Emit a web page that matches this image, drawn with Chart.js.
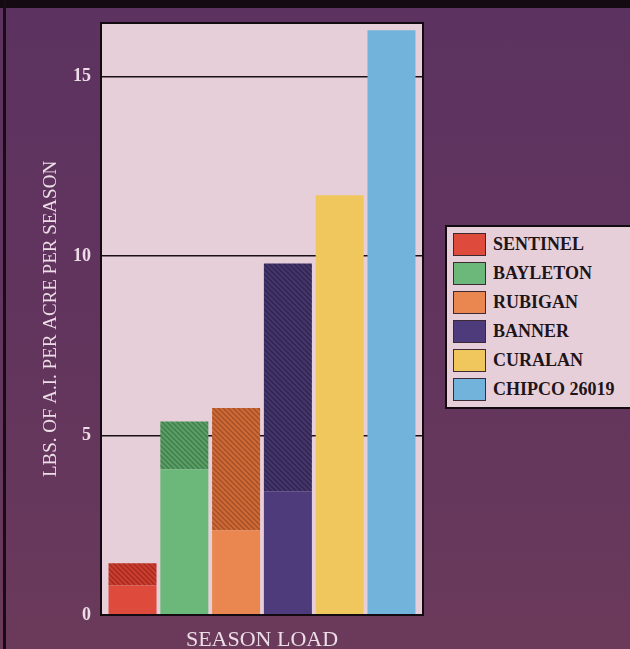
<!DOCTYPE html>
<html>
<head>
<meta charset="utf-8">
<script src="https://cdn.jsdelivr.net/npm/chart.js@4.4.1/dist/chart.umd.min.js"></script>
<style>
html,body{margin:0;padding:0;width:630px;height:649px;overflow:hidden;}
body{position:relative;background:linear-gradient(180deg,#5c3260 0%,#62355d 55%,#6b3a5b 100%);font-family:"Liberation Serif",serif;}
#topband{position:absolute;left:0;top:0;width:630px;height:8px;background:#140b12;}
#leftline{position:absolute;left:3px;top:0;width:3px;height:649px;background:#1a0c17;}
#wrap{position:absolute;left:0;top:0;width:630px;height:649px;}
#legend{position:absolute;left:445px;top:225px;width:200px;height:184px;box-sizing:border-box;border:2px solid #120c10;background:#e7cfd9;}
.item{position:absolute;left:6px;height:23px;display:flex;align-items:center;white-space:nowrap;}
.sw{width:33px;height:23px;box-sizing:border-box;border:1.5px solid #3b2a34;}
.lab{margin-left:7px;font-family:"Liberation Serif",serif;font-weight:bold;font-size:18px;color:#1d1519;line-height:23px;}
</style>
</head>
<body>
<div id="topband"></div>
<div id="leftline"></div>
<div id="wrap"><canvas id="c" width="630" height="649"></canvas></div>
<div id="legend"></div>
<script>
// ---- data ----
const categories = ['SEASON LOAD'];
const products = ['SENTINEL', 'BAYLETON', 'RUBIGAN', 'BANNER', 'CURALAN', 'CHIPCO 26019'];
const lowRate  = [0.82, 4.06, 2.36, 3.45, 11.70, 16.30];
const highRate = [1.44, 5.39, 5.77, 9.80, 11.70, 16.30];
const yTicks = [0, 5, 10, 15];
const yMax = 16.5;
const yTitle = 'LBS. OF A.I. PER ACRE PER SEASON';

// ---- styles ----
const solidColors  = ['#de4a3b', '#6cb87b', '#ea8650', '#4d3b7b', '#f0c75c', '#72b3db'];
const hatchBase    = ['#cc3e2f', '#5a9f66', '#cf6a35', '#45366e', '#f0c75c', '#72b3db'];
const hatchStripe  = ['#a52b1f', '#427d4c', '#a4502a', '#30254f', '#f0c75c', '#72b3db'];
const plotBg = '#e7cfd9';
const lightText = '#ecdde6';

function hatch(base, stripe) {
  const s = 5;
  const c = document.createElement('canvas');
  c.width = s; c.height = s;
  const g = c.getContext('2d');
  g.fillStyle = base; g.fillRect(0, 0, s, s);
  g.strokeStyle = stripe; g.lineWidth = 1.5;
  g.beginPath();
  g.moveTo(-1, -1); g.lineTo(s + 1, s + 1);
  g.moveTo(-1, s - 1); g.lineTo(1, s + 1);
  g.moveTo(s - 1, -1); g.lineTo(s + 1, 1);
  g.stroke();
  return g.createPattern(c, 'repeat');
}

const datasets = [];
products.forEach((p, i) => {
  datasets.push({
    label: p,
    data: [lowRate[i]],
    stack: 's' + i,
    backgroundColor: solidColors[i],
    borderWidth: 0
  });
  if (highRate[i] > lowRate[i]) {
    datasets.push({
      label: p + ' range',
      data: [highRate[i] - lowRate[i]],
      stack: 's' + i,
      backgroundColor: hatch(hatchBase[i], hatchStripe[i]),
      borderWidth: 0
    });
  }
});

const plotFrame = {
  id: 'plotFrame',
  beforeDraw(chart) {
    const a = chart.chartArea, ctx = chart.ctx;
    ctx.save();
    ctx.fillStyle = plotBg;
    ctx.fillRect(a.left, a.top, a.right - a.left, a.bottom - a.top);
    ctx.restore();
  },
  afterDraw(chart) {
    const a = chart.chartArea, ctx = chart.ctx;
    ctx.save();
    ctx.strokeStyle = '#120a10';
    ctx.lineWidth = 2;
    ctx.strokeRect(a.left, a.top, a.right - a.left, a.bottom - a.top);
    ctx.restore();
  }
};

new Chart(document.getElementById('c'), {
  type: 'bar',
  data: { labels: categories, datasets: datasets },
  options: {
    responsive: false,
    animation: false,
    devicePixelRatio: 1,
    layout: { padding: { top: 23, right: 207, left: 0, bottom: 0 } },
    datasets: { bar: { barPercentage: 0.927, categoryPercentage: 0.965 } },
    plugins: { legend: { display: false }, tooltip: { enabled: false } },
    scales: {
      x: {
        stacked: true,
        grid: { display: false },
        border: { display: false },
        ticks: {
          color: lightText,
          padding: 4,
          font: { family: 'Liberation Serif', size: 22 }
        },
        afterFit: s => { s.height = 34; }
      },
      y: {
        stacked: true,
        min: 0,
        max: yMax,
        z: 1,
        afterBuildTicks: s => { s.ticks = yTicks.map(v => ({ value: v })); },
        grid: { color: '#1a1016', lineWidth: 1.5, drawTicks: false },
        border: { display: false },
        ticks: {
          color: lightText,
          padding: 10,
          font: { family: 'Liberation Serif', size: 18, weight: 'bold' }
        },
        title: {
          display: true,
          text: yTitle,
          color: lightText,
          padding: { top: 40, bottom: 0 },
          font: { family: 'Liberation Serif', size: 19 }
        },
        afterFit: s => { s.width = 101; }
      }
    }
  },
  plugins: [plotFrame]
});

// ---- legend ----
const leg = document.getElementById('legend');
products.forEach((p, i) => {
  const it = document.createElement('div');
  it.className = 'item';
  it.style.top = (6 + i * 29) + 'px';
  const sw = document.createElement('div');
  sw.className = 'sw';
  sw.style.background = solidColors[i];
  const lb = document.createElement('span');
  lb.className = 'lab';
  lb.textContent = p;
  it.appendChild(sw); it.appendChild(lb);
  leg.appendChild(it);
});
</script>
</body>
</html>
